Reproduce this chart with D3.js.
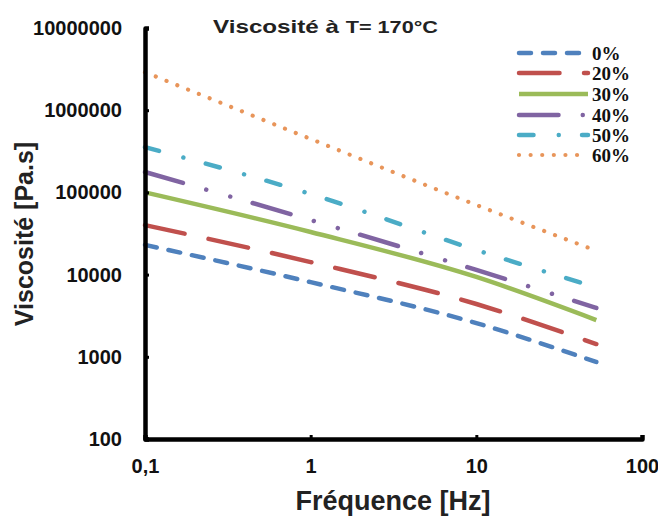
<!DOCTYPE html>
<html>
<head>
<meta charset="utf-8">
<script src="https://cdn.jsdelivr.net/npm/d3@7"></script>
<style>
  html, body { margin: 0; padding: 0; background: #fff; }
  svg { display: block; }
</style>
</head>
<body>
<svg id="chart" width="658" height="517"></svg>
<script>
// Frequencies (Hz) at which the viscosity curves are sampled
const frequencies = [0.1, 1, 10, 53];

// Complex viscosity (Pa.s) for each filler content
const visc0  = [23000, 8100, 2570, 865];
const visc20 = [40000, 14200, 4390, 1430];
const visc30 = [100000, 33000, 9360, 2800];
const visc40 = [177000, 46100, 11400, 3930];
const visc50 = [355000, 95600, 19900, 7000];
const visc60 = [2900000, 447000, 70300, 19500];

const seriesNames = ["0%", "20%", "30%", "40%", "50%", "60%"];
const seriesValues = [visc0, visc20, visc30, visc40, visc50, visc60];

const xTicks = [0.1, 1, 10, 100];
const xTickLabels = ["0,1", "1", "10", "100"];
const yTicks = [100, 1000, 10000, 100000, 1000000, 10000000];
const yTickLabels = ["100", "1000", "10000", "100000", "1000000", "10000000"];

// Line styling per series (Excel-like palette and dash styles)
const styles = [
  { color: "#4F81BD", width: 4.5, dash: "12,12" },
  { color: "#C0504D", width: 4.5, dash: "40.5,24.5" },
  { color: "#9BBB59", width: 4.5, dash: null },
  { color: "#8064A2", width: 4.5, dash: "39.5,24.25,0.01,25,0.01,23.25" },
  { color: "#4BACC6", width: 4.5, dash: "14.5,25.25,0.01,23.25" },
  { color: "#E8955A", width: 4.2, dash: "0.01,11.6" }
];

const svg = d3.select("#chart");

const x = d3.scaleLog().domain([0.1, 100]).range([145, 642]);
const y = d3.scaleLog().domain([100, 1e7]).range([439, 28]);

// Curves
const line = d3.line()
  .x(d => x(d[0]))
  .y(d => y(d[1]))
  .curve(d3.curveMonotoneX);

const plot = svg.append("g");
seriesValues.forEach((vals, i) => {
  const pts = frequencies.map((f, j) => [f, vals[j]]);
  const st = styles[i];
  plot.append("path")
    .datum(pts)
    .attr("d", line)
    .attr("fill", "none")
    .attr("stroke", st.color)
    .attr("stroke-width", st.width)
    .attr("stroke-linecap", st.dash ? "round" : "butt")
    .attr("stroke-dasharray", st.dash);
});

// Axes
const yAxis = d3.axisLeft(y)
  .tickValues(yTicks)
  .tickFormat((d, i) => yTickLabels[i])
  .tickSizeInner(-4)
  .tickSizeOuter(-4)
  .tickPadding(23);

const xAxis = d3.axisBottom(x)
  .tickValues(xTicks)
  .tickFormat((d, i) => xTickLabels[i])
  .tickSizeInner(-4)
  .tickSizeOuter(-4)
  .tickPadding(20);

function styleAxis(g) {
  g.select(".domain").attr("stroke", "#000").attr("stroke-width", 4.5).attr("stroke-linejoin", "round");
  g.selectAll(".tick line").attr("stroke", "#000").attr("stroke-width", 3);
  g.selectAll(".tick text")
    .attr("fill", "#111")
    .style("font-family", "'Liberation Sans', Arial, sans-serif")
    .style("font-weight", "bold")
    .style("font-size", "20px");
}

svg.append("g")
  .attr("transform", "translate(145,0)")
  .call(yAxis)
  .call(styleAxis);

svg.append("g")
  .attr("transform", "translate(0,439)")
  .call(xAxis)
  .call(styleAxis);

// Axis titles
svg.append("text")
  .attr("x", 393)
  .attr("y", 510)
  .attr("text-anchor", "middle")
  .style("font-family", "'Liberation Sans', Arial, sans-serif")
  .style("font-weight", "bold")
  .style("font-size", "27px")
  .attr("fill", "#222")
  .text("Fréquence [Hz]");

svg.append("text")
  .attr("transform", "translate(33,234) rotate(-90)")
  .attr("text-anchor", "middle")
  .style("font-family", "'Liberation Sans', Arial, sans-serif")
  .style("font-weight", "bold")
  .style("font-size", "25px")
  .attr("fill", "#222")
  .text("Viscosité [Pa.s]");

// Chart title
const title = svg.append("text")
  .attr("x", 213)
  .attr("y", 33)
  .attr("textLength", 225)
  .attr("lengthAdjust", "spacingAndGlyphs")
  .style("font-family", "'Liberation Sans', Arial, sans-serif")
  .style("font-weight", "bold")
  .attr("fill", "#222");
title.append("tspan").style("font-size", "19px").text("Viscosité à ");
title.append("tspan").style("font-size", "17px").text("T= 170°C");

// Legend
const legend = svg.append("g");
const legendY = [53, 73, 94, 115, 135, 155];
seriesNames.forEach((name, i) => {
  const st = styles[i];
  legend.append("line")
    .attr("x1", 519).attr("x2", 588)
    .attr("y1", legendY[i]).attr("y2", legendY[i])
    .attr("stroke", st.color)
    .attr("stroke-width", st.width)
    .attr("stroke-linecap", st.dash ? "round" : "butt")
    .attr("stroke-dasharray", st.dash);
  legend.append("text")
    .attr("x", 592)
    .attr("y", legendY[i])
    .attr("dy", "0.35em")
    .style("font-family", "'Liberation Serif', 'Times New Roman', serif")
    .style("font-weight", "bold")
    .style("font-size", "19px")
    .attr("fill", "#111")
    .text(name);
});
</script>
</body>
</html>
